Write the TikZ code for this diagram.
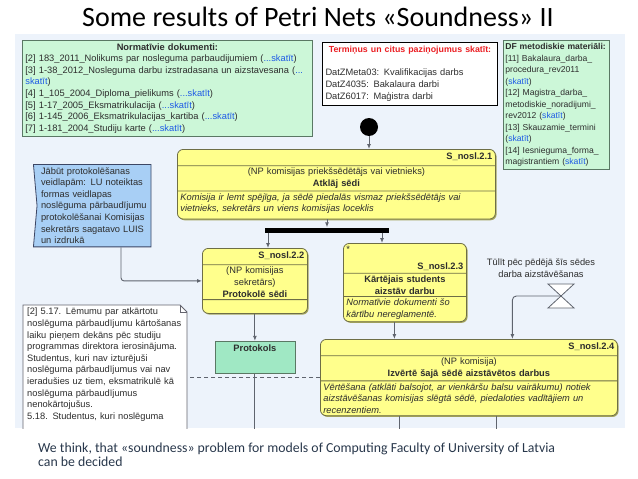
\documentclass[tikz,border=0pt]{standalone}
\usepackage{fontspec}
\setmainfont{Liberation Sans}
\newfontfamily\slidefont{Carlito}
\usetikzlibrary{arrows.meta, positioning, shapes.multipart, shapes.symbols, shadows}

\definecolor{panelbg}{RGB}{237,243,251}
\definecolor{yfill}{RGB}{255,255,140}
\definecolor{ybord}{RGB}{110,110,70}
\definecolor{yshade}{RGB}{165,165,95}
\definecolor{gfill}{RGB}{204,247,216}
\definecolor{gbord}{RGB}{90,120,100}
\definecolor{pfill}{RGB}{160,232,196}
\definecolor{bfill}{RGB}{168,207,245}
\definecolor{bbord}{RGB}{60,70,100}
\definecolor{nbord}{RGB}{100,100,110}
\definecolor{wirec}{RGB}{95,100,110}
\definecolor{linkblue}{RGB}{30,90,230}
\definecolor{termred}{RGB}{235,30,35}
\definecolor{ink}{RGB}{45,45,45}
\definecolor{slate}{RGB}{40,55,75}

\newcommand{\dfont}{\fontsize{9.3}{11.6}\selectfont}
\newcommand{\lnk}[1]{\textcolor{linkblue}{#1}}

\begin{document}
\begin{tikzpicture}[
        x=1pt, y=-1pt,
        font=\dfont, text=ink,
        >={Latex[length=5pt, width=4pt]},
        conn/.style={->, draw=wirec, line width=0.9pt},
        wire/.style={draw=wirec, line width=0.9pt},
        dwire/.style={draw=wirec, line width=0.8pt, dash pattern=on 4pt off 3pt},
        ybox/.style={rectangle split, rectangle split parts=3, draw=ybord, fill=yfill, line width=0.8pt,
            rounded corners=6pt, text width=#1, inner xsep=3pt, inner ysep=2pt, anchor=north west,
            drop shadow={shadow xshift=1.2pt, shadow yshift=-1.2pt, fill=yshade, opacity=1}},
        gbox/.style={draw=gbord, fill=gfill, line width=0.8pt, text width=#1, inner xsep=3pt, inner ysep=3pt, anchor=north west, align=left},
        lbl/.style={align=center, inner sep=0pt}
    ]
    \useasboundingbox (0,0) rectangle (638,479);

    % --- slide title and panel ---
    \node[anchor=base, font=\slidefont\fontsize{28}{32}\selectfont, text=black] (title) at (318,27) {Some results of Petri Nets «Soundness» II};
    \fill[panelbg] (15,34) rectangle (625,428);
    \coordinate (bot) at (0,440);

    \begin{scope}
    \clip (15,34) rectangle (625,428);

    % --- documents on top ---
    \node[gbox=284pt] (norm) at (22,40) {\makebox[\linewidth]{\textbf{Normatīvie dokumenti:}}\\{}
        [2] 183\_2011\_Nolikums par nosleguma parbaudijumiem (\lnk{...skatīt})\\{}
        [3] 1-38\_2012\_Nosleguma darbu izstradasana un aizstavesana (\lnk{...}\\
        \lnk{skatīt})\\{}
        [4] 1\_105\_2004\_Diploma\_pielikums (\lnk{...skatīt})\\{}
        [5] 1-17\_2005\_Eksmatrikulacija (\lnk{...skatīt})\\{}
        [6] 1-145\_2006\_Eksmatrikulacijas\_kartiba (\lnk{...skatīt})\\{}
        [7] 1-181\_2004\_Studiju karte (\lnk{...skatīt})};

    \node[draw=black, fill=white, line width=1pt, text width=169pt, inner xsep=3pt, inner ysep=4pt, anchor=north west] (term) at (322,42)
        {\makebox[\linewidth]{\fontsize{8.8}{11.6}\selectfont\textcolor{termred}{\bfseries Termiņus un citus paziņojumus skatīt:}}\\[11.4pt]
        DatZMeta03: Kvalifikacijas darbs\\
        DatZ4035: Bakalaura darbi\\
        DatZ6017: Maģistra darbi};

    \node[gbox=102pt, inner xsep=2pt, font=\fontsize{8.6}{11.5}\selectfont] (dfm) at (503,40) {\textbf{DF metodiskie materiāli:}\\{}
        [11] Bakalaura\_darba\_\\
        procedura\_rev2011\\
        (\lnk{skatīt})\\{}
        [12] Magistra\_darba\_\\
        metodiskie\_noradijumi\_\\
        rev2012 (\lnk{skatīt})\\{}
        [13] Skauzamie\_termini\\
        (\lnk{skatīt})\\{}
        [14] Iesnieguma\_forma\_\\
        magistrantiem (\lnk{skatīt})};

    % --- process ---
    \node[circle, fill=black, minimum size=18pt, inner sep=0pt] (start) at (369,127) {};

    \node[ybox=312pt] (s21) at (177,149) {\hspace*{\fill}\textbf{S\_nosl.2.1}\strut
        \nodepart{two}\centering (NP komisijas priekšsēdētājs vai vietnieks)\\ \textbf{Atklāj sēdi}\par
        \nodepart{three}\raggedright\itshape Komisija ir lemt spējīga, ja sēdē piedalās vismaz priekšsēdētājs vai\\
        vietnieks, sekretārs un viens komisijas loceklis\rule[-5pt]{0pt}{5pt}\par};
    \draw[conn] (start) -- (start |- s21.north);

    \node[fill=black, minimum width=124pt, minimum height=5pt, inner sep=0pt] (fork) at (327,230) {};
    \draw[conn] (s21.south -| fork.north) -- (fork.north);

    \node[ybox=99pt] (s22) at (202,248) {\hspace*{\fill}\textbf{S\_nosl.2.2}\strut
        \nodepart{two}\centering (NP komisijas\\ sekretārs)\\ \textbf{Protokolē sēdi}\par
        \nodepart{three}\rule{0pt}{9pt}};

    \node[ybox=117pt] (s23) at (343,243) {*\\[6pt]\hspace*{\fill}\textbf{S\_nosl.2.3}
        \nodepart{two}\centering\textbf{Kārtējais students\\ aizstāv darbu}\par
        \nodepart{three}\raggedright\itshape Normatīvie dokumenti šo\\ kārtību nereglamentē.\par};

    \draw[conn] ([xshift=-59pt]fork.south) -- ([xshift=-59pt]fork.south |- s22.north);
    \draw[conn] ([xshift=55pt]fork.south) -- ([xshift=55pt]fork.south |- s23.north);

    \node[signal, signal from=west, signal to=nowhere, signal pointer angle=170, draw=bbord, fill=bfill, line width=0.8pt,
        text width=106pt, inner xsep=4pt, inner ysep=3pt, anchor=north west] (jabut) at (33,164)
        {Jābūt protokolēšanas\\ veidlapām: LU noteiktas\\ formas veidlapas\\ noslēguma pārbaudījumu\\
        protokolēšanai Komisijas\\ sekretārs sagatavo LUIS\\ un izdrukā};
    \draw[conn, rounded corners=3pt] ([xshift=27pt]jabut.south) |- (s22.west);

    \node[draw=gbord, fill=pfill, line width=0.8pt, minimum width=80pt, text height=8pt, text depth=19pt, inner ysep=2.5pt,
        font=\dfont\bfseries, below=27pt of s22] (prot) {Protokols};
    \draw[conn] (s22) -- (prot);
    \draw[wire] (prot.south) -- (prot.south |- bot);

    \node[ybox=291pt] (s24) at (320,339) {\hspace*{\fill}\textbf{S\_nosl.2.4}\strut
        \nodepart{two}\centering (NP komisija)\\ \textbf{Izvērtē šajā sēdē aizstāvētos darbus}\par
        \nodepart{three}\raggedright\itshape Vērtēšana (atklāti balsojot, ar vienkāršu balsu vairākumu) notiek\\
        aizstāvēšanas komisijas slēgtā sēdē, piedaloties vadītājiem un\\ recenzentiem.\par};
    \draw[conn] ([xshift=-10.5pt]s23.south) -- ([xshift=-10.5pt]s23.south |- s24.north);
    \draw[wire] ([xshift=-69.5pt]s24.south) -- ([xshift=-69.5pt]s24.south |- bot);
    \draw[wire] ([xshift=27.5pt]s24.south) -- ([xshift=27.5pt]s24.south |- bot);

    % --- timer ---
    \coordinate (timer) at (561,296);
    \node[lbl] (tlbl) at (541,268) {Tūlīt pēc pēdējā šīs sēdes\\ darba aizstāvēšanas};
    \draw[conn, rounded corners=4pt] (timer) -| ([xshift=43.5pt]s24.north);
    \draw[draw=wirec, fill=white, line width=0.8pt] ([shift={(-13,-12)}]timer) -- ++(26,0) -- ++(-26,24) -- ++(26,0) -- cycle;

    % --- note ---
    \coordinate (notetl) at (23,305);
    \filldraw[fill=white, draw=nbord, line width=0.8pt] (notetl) -- ++(157,0) -- ++(7,7) -- ++(0,140) -- ++(-164,0) -- cycle;
    \draw[nbord, line width=0.6pt] ([xshift=157pt]notetl) -- ++(0,7) -- ++(7,0);
    \node[anchor=north west, text width=156pt, inner xsep=4pt, inner ysep=3pt] (note) at (notetl)
        {[2] 5.17. Lēmumu par atkārtotu\\ noslēguma pārbaudījumu kārtošanas\\ laiku pieņem dekāns pēc studiju\\
        programmas direktora ierosinājuma.\\ Studentus, kuri nav izturējuši\\ noslēguma pārbaudījumus vai nav\\
        ieradušies uz tiem, eksmatrikulē kā\\ noslēguma pārbaudījumus\\ nenokārtojušus.\\ 5.18. Studentus, kuri noslēguma};
    \draw[dwire] (s24.west) -- (s24.west -| note.east);
    \end{scope}

    % --- conclusion ---
    \node[anchor=north west, font=\slidefont\fontsize{13.8}{13.4}\selectfont, text=slate, align=left, inner sep=0pt] (concl) at (38,443)
        {We think, that «soundness» problem for models of Computing Faculty of University of Latvia\\ can be decided};
\end{tikzpicture}
\end{document}
